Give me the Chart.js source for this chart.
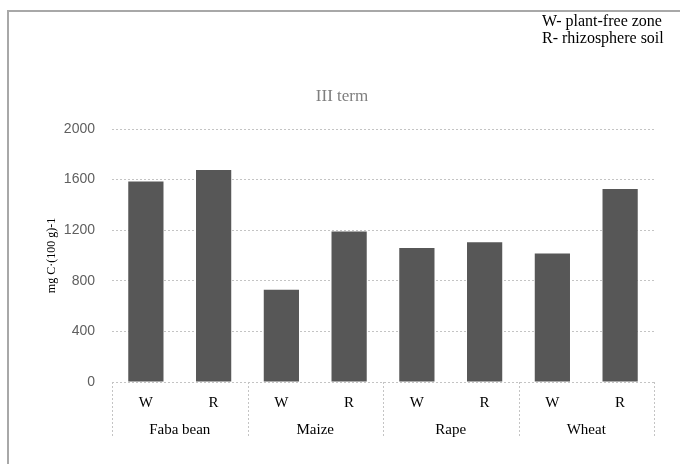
<!DOCTYPE html>
<html>
<head>
<meta charset="utf-8">
<script src="https://cdn.jsdelivr.net/npm/chart.js@4"></script>
<style>
  html, body { margin: 0; padding: 0; background: #fff; }
  #wrap { position: relative; width: 680px; height: 464px; overflow: hidden; }
  #frame { position: absolute; left: 7px; top: 10px; width: 720px; height: 520px;
           border-left: 2px solid #a8a8a8; border-top: 2px solid #a8a8a8; }
  canvas { position: absolute; left: 0; top: 0; }
</style>
</head>
<body>
<div id="wrap">
  <div id="frame"></div>
  <canvas id="chart" width="680" height="464"></canvas>
</div>
<script>
// data
const zones = ['W', 'R', 'W', 'R', 'W', 'R', 'W', 'R'];
const crops = ['Faba bean', 'Maize', 'Rape', 'Wheat'];
const carbon = [1585, 1675, 730, 1190, 1060, 1105, 1015, 1525];
const yTicks = [0, 400, 800, 1200, 1600, 2000];
const legendLines = ['W- plant-free zone', 'R- rhizosphere soil'];

const serif = '"Liberation Serif", "Times New Roman", serif';
const sans = '"Liberation Sans", Arial, sans-serif';

// group dividers under the axis + title and the W/R note
const decor = {
    id: 'decor',
    afterDraw(chart) {
        const { ctx, chartArea } = chart;
        const xs = chart.scales.x;
        ctx.save();
        ctx.strokeStyle = '#c4c4c4';
        ctx.lineWidth = 1;
        ctx.setLineDash([2, 2]);
        const step = (xs.right - xs.left) / crops.length;
        for (let i = 0; i <= crops.length; i++) {
            const px = Math.round(xs.left + i * step) + 0.5;
            ctx.beginPath();
            ctx.moveTo(px, chartArea.bottom);
            ctx.lineTo(px, chartArea.bottom + 55);
            ctx.stroke();
        }
        ctx.setLineDash([]);

        ctx.textBaseline = 'middle';
        ctx.fillStyle = '#7f7f7f';
        ctx.font = '17px ' + serif;
        ctx.textAlign = 'center';
        ctx.fillText('III term', 342, 97);

        ctx.fillStyle = '#000';
        ctx.font = '16px ' + serif;
        ctx.textAlign = 'left';
        legendLines.forEach((t, i) => ctx.fillText(t, 542, 22 + i * 17));
        ctx.restore();
    }
};

new Chart(document.getElementById('chart').getContext('2d'), {
    type: 'bar',
    data: {
        labels: zones,
        datasets: [{
            data: carbon,
            backgroundColor: '#575757',
            borderWidth: 0,
            barPercentage: 0.52,
            categoryPercentage: 1
        }]
    },
    options: {
        responsive: false,
        animation: false,
        layout: { padding: { left: 40, right: 26, top: 129, bottom: 21 } },
        plugins: {
            legend: { display: false },
            tooltip: { enabled: false }
        },
        scales: {
            x: {
                type: 'category',
                offset: true,
                grid: { display: false },
                border: { display: false },
                ticks: { font: { family: serif, size: 15 }, color: '#000', padding: 4, maxRotation: 0, autoSkip: false },
                afterFit: s => { s.height = 31; }
            },
            x2: {
                type: 'category',
                labels: crops,
                position: 'bottom',
                offset: true,
                grid: { display: false },
                border: { display: false },
                ticks: { font: { family: serif, size: 15 }, color: '#000', padding: 0, maxRotation: 0, autoSkip: false },
                afterFit: s => { s.height = 30; }
            },
            y: {
                min: 0,
                max: 2000,
                afterBuildTicks: s => { s.ticks = yTicks.map(v => ({ value: v })); },
                ticks: { font: { family: sans, size: 14 }, color: '#5f5f5f', padding: 17, callback: v => String(v) },
                grid: { color: '#c4c4c4', drawTicks: false },
                border: { display: false, dash: [2, 2] },
                title: {
                    display: true,
                    text: 'mg C·(100 g)-1',
                    font: { family: serif, size: 12 },
                    color: '#000',
                    padding: { top: 5, bottom: 0 }
                },
                afterFit: s => { s.width = 72; }
            }
        }
    },
    plugins: [decor]
});
</script>
</body>
</html>
